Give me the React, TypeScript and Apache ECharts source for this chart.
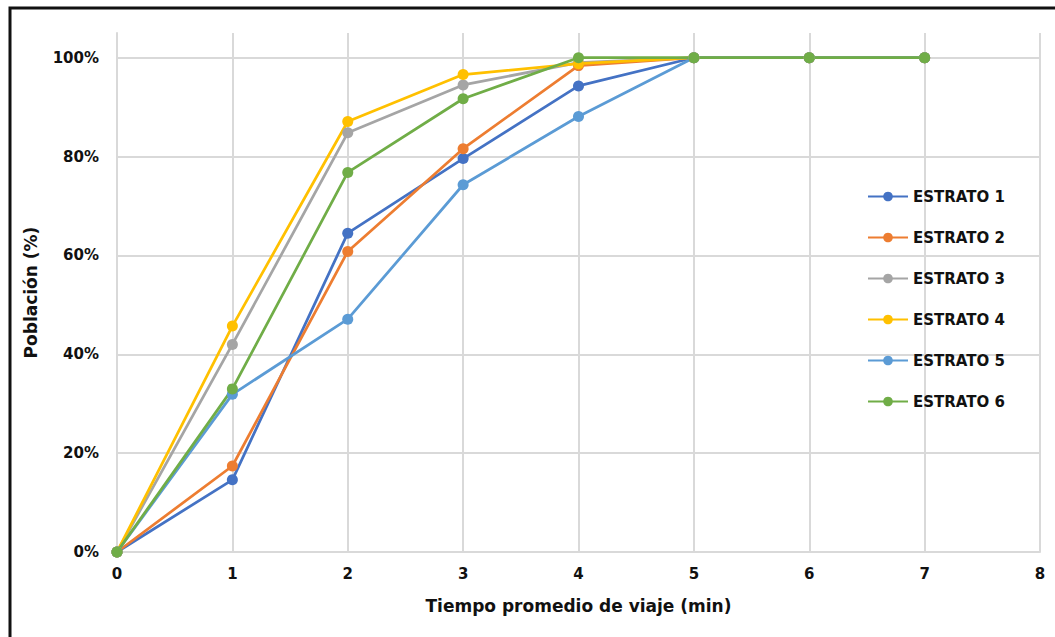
import React, { useEffect, useRef } from "react";
import * as echarts from "echarts";

const xValues = [0, 1, 2, 3, 4, 5, 6, 7];
const seriesNames = ["ESTRATO 1", "ESTRATO 2", "ESTRATO 3", "ESTRATO 4", "ESTRATO 5", "ESTRATO 6"];
const estrato1 = [0, 14.6, 64.5, 79.6, 94.3, 100, 100, 100];
const estrato2 = [0, 17.4, 60.8, 81.6, 98.4, 100, 100, 100];
const estrato3 = [0, 42.0, 84.8, 94.5, 99.0, 100, 100, 100];
const estrato4 = [0, 45.7, 87.1, 96.6, 98.8, 100, 100, 100];
const estrato5 = [0, 31.9, 47.1, 74.3, 88.1, 100, 100, 100];
const estrato6 = [0, 33.0, 76.8, 91.7, 100, 100, 100, 100];
const seriesValues = [estrato1, estrato2, estrato3, estrato4, estrato5, estrato6];
const colors = ["#4472C4", "#ED7D31", "#A5A5A5", "#FFC000", "#5B9BD5", "#70AD47"];

const FONT = "'DejaVu Sans', sans-serif";

export default function App() {
  const ref = useRef<HTMLDivElement>(null);
  useEffect(() => {
    if (!ref.current) return;
    const chart = echarts.init(ref.current, null, { renderer: "svg" });
    chart.setOption({
      animation: false,
      backgroundColor: "#ffffff",
      grid: { left: 117, right: 15, top: 33, bottom: 85, containLabel: false },
      graphic: [
        {
          type: "rect",
          shape: { x: 10, y: 8, width: 1200, height: 800 },
          style: { fill: "none", stroke: "#111", lineWidth: 3 },
          z: 100,
        },
      ],
      legend: {
        orient: "vertical",
        left: 862,
        top: 184,
        itemWidth: 40,
        itemHeight: 12,
        itemGap: 26,
        textStyle: { fontFamily: FONT, fontWeight: "bold", fontSize: 15, color: "#111" },
        data: seriesNames,
      },
      xAxis: {
        type: "value",
        min: 0,
        max: 8,
        interval: 1,
        name: "Tiempo promedio de viaje (min)",
        nameLocation: "middle",
        nameGap: 45,
        nameTextStyle: { fontFamily: FONT, fontWeight: "bold", fontSize: 17, color: "#111" },
        axisLine: { show: true, onZero: false, lineStyle: { color: "#d9d9d9", width: 2 } },
        axisTick: { show: false },
        axisLabel: { margin: 14, fontFamily: FONT, fontWeight: "bold", fontSize: 15, color: "#111" },
        splitLine: { show: true, lineStyle: { color: "#d9d9d9", width: 2 } },
      },
      yAxis: {
        type: "value",
        min: 0,
        max: 105,
        interval: 20,
        name: "Población (%)",
        nameLocation: "middle",
        nameGap: 78,
        nameTextStyle: { fontFamily: FONT, fontWeight: "bold", fontSize: 17, color: "#111" },
        axisLine: { show: true, lineStyle: { color: "#d9d9d9", width: 2 } },
        axisTick: { show: false },
        axisLabel: {
          margin: 18,
          showMaxLabel: false,
          fontFamily: FONT,
          fontWeight: "bold",
          fontSize: 15,
          color: "#111",
          formatter: (v: number) => (v % 20 === 0 ? v + "%" : ""),
        },
        splitLine: { show: true, showMaxLine: false, lineStyle: { color: "#d9d9d9", width: 2 } },
      },
      series: seriesNames.map((name, i) => ({
        name,
        type: "line",
        data: xValues.map((x, j) => [x, seriesValues[i][j]]),
        symbol: "circle",
        symbolSize: 11,
        color: colors[i],
        lineStyle: { width: 2.75, color: colors[i] },
        itemStyle: { color: colors[i] },
      })),
    });
    return () => chart.dispose();
  }, []);
  return (
    <div
      ref={ref}
      style={{ position: "fixed", left: 0, top: 0, width: 1055, height: 637 }}
    />
  );
}
